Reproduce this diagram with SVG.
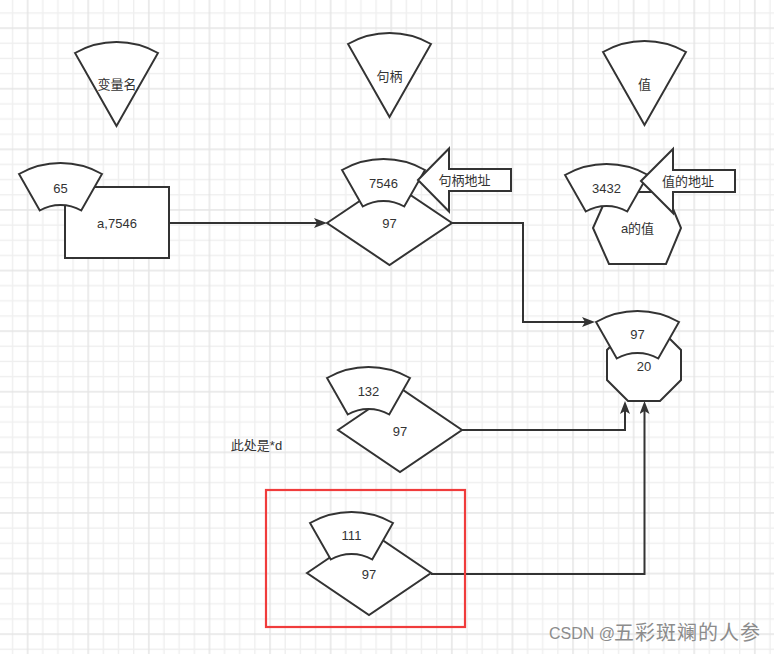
<svg xmlns="http://www.w3.org/2000/svg" width="774" height="654" viewBox="0 0 774 654">
<defs>
<style>
.s{fill:#fff;stroke:#333;stroke-width:2;stroke-linejoin:miter}
.c{fill:none;stroke:#333;stroke-width:2}
.t{font-family:"Liberation Sans","Noto Sans CJK SC",sans-serif;font-size:13px;fill:#333;text-anchor:middle;dominant-baseline:central}
</style>
<pattern id="grid" patternUnits="userSpaceOnUse" x="11.8" y="12.3" width="60.6" height="60.6">
<rect x="0" y="0" width="1.4" height="60.6" fill="#efefef"/>
<rect x="30.3" y="0" width="1.4" height="60.6" fill="#efefef"/>
<rect x="45.45" y="0" width="1.4" height="60.6" fill="#efefef"/>
<rect x="0" y="0" width="60.6" height="1.4" fill="#efefef"/>
<rect x="0" y="30.3" width="60.6" height="1.4" fill="#efefef"/>
<rect x="0" y="45.45" width="60.6" height="1.4" fill="#efefef"/>
<rect x="15.15" y="0" width="1.4" height="60.6" fill="#e4e4e4"/>
<rect x="0" y="15.15" width="60.6" height="1.4" fill="#e4e4e4"/>
</pattern>
<path id="pie" d="M-41.5,-73 A84,84 0 0 1 41.5,-73 L0,0 Z"/>
<path id="ann" d="M-41.5,-73 A84,84 0 0 1 41.5,-73 L20.75,-36.5 A42,42 0 0 0 -20.75,-36.5 Z"/>
<marker id="arr" markerUnits="userSpaceOnUse" markerWidth="14" markerHeight="10" refX="9" refY="5" orient="auto">
<path d="M0,0 L13,5 L0,10 L3,5 Z" fill="#333"/>
</marker>
</defs>
<rect width="774" height="654" fill="#fff"/>
<rect width="774" height="654" fill="url(#grid)"/>

<g id="connectors" class="c">
<path class="c" d="M169,223 H323" marker-end="url(#arr)"/>
<path class="c" d="M452,223 H523 V322 H591" marker-end="url(#arr)"/>
<path class="c" d="M462,430 H625 V405" marker-end="url(#arr)"/>
<path class="c" d="M431,574 H644.5 V405" marker-end="url(#arr)"/>
</g>

<g id="label-varname">
<use href="#pie" class="s" transform="translate(116.5,126)"/>
<text class="t" x="117" y="84">变量名</text>
</g>
<g id="label-handle">
<use href="#pie" class="s" transform="translate(389.5,117)"/>
<text class="t" x="389.5" y="76">句柄</text>
</g>
<g id="label-value">
<use href="#pie" class="s" transform="translate(644.5,125)"/>
<text class="t" x="644.5" y="84">值</text>
</g>

<g id="var-a">
<rect class="s" x="65" y="187" width="104" height="71"/>
<text class="t" x="117" y="223">a,7546</text>
</g>
<g id="var-a-addr">
<use href="#ann" class="s" transform="translate(60.5,247)"/>
<text class="t" x="60.5" y="188">65</text>
</g>

<g id="handle">
<polygon class="s" points="327,223 389.5,181 452,223 389.5,265"/>
<text class="t" x="389.5" y="223">97</text>
</g>
<g id="handle-addr">
<use href="#ann" class="s" transform="translate(383.5,243)"/>
<text class="t" x="383.5" y="183">7546</text>
</g>
<g id="handle-addr-label">
<polygon class="s" points="418,180 449,148.5 449,169 511,169 511,191 449,191 449,211.5"/>
<text class="t" x="464.5" y="180">句柄地址</text>
</g>

<g id="value">
<polygon class="s" points="609,192 666,192 681,228 666,264 609,264 593,228"/>
<text class="t" x="637.5" y="228">a的值</text>
</g>
<g id="value-addr">
<use href="#ann" class="s" transform="translate(606.5,248)"/>
<text class="t" x="606.5" y="188">3432</text>
</g>
<g id="value-addr-label">
<polygon class="s" points="641,181 673,149 673,170 735,170 735,192 673,192 673,213"/>
<text class="t" x="688" y="181">值的地址</text>
</g>

<g id="target">
<polygon class="s" points="628,329 660,329 681,350 681,380 660,401 628,401 607,380 607,350"/>
<text class="t" x="644" y="366">20</text>
</g>
<g id="target-addr">
<use href="#ann" class="s" transform="translate(637.5,395)"/>
<text class="t" x="637.5" y="334">97</text>
</g>

<g id="ptr-d">
<polygon class="s" points="338,430 400,388 462,430 400,472"/>
<text class="t" x="400" y="431">97</text>
</g>
<g id="ptr-d-addr">
<use href="#ann" class="s" transform="translate(368.5,451)"/>
<text class="t" x="368.5" y="391">132</text>
</g>

<g id="note">
<text class="t" x="256.5" y="445">此处是*d</text>
</g>

<g id="highlight">
<rect x="266" y="490" width="199" height="137" fill="none" stroke="#f03c3c" stroke-width="2.2"/>
</g>
<g id="ptr-star-d">
<polygon class="s" points="307,573 369,531 431,573 369,615"/>
<text class="t" x="369" y="574">97</text>
</g>
<g id="ptr-star-d-addr">
<use href="#ann" class="s" transform="translate(351.5,596)"/>
<text class="t" x="351.5" y="535">111</text>
</g>

<g id="watermark" font-family="Liberation Sans,Noto Sans CJK SC,sans-serif" fill="#8c8c8c">
<text x="549" y="639" font-size="16">CSDN @</text>
<text x="614" y="640" font-size="20" font-family="Noto Sans CJK SC,sans-serif" textLength="146" lengthAdjust="spacing">五彩斑斓的人参</text>
</g>
</svg>
